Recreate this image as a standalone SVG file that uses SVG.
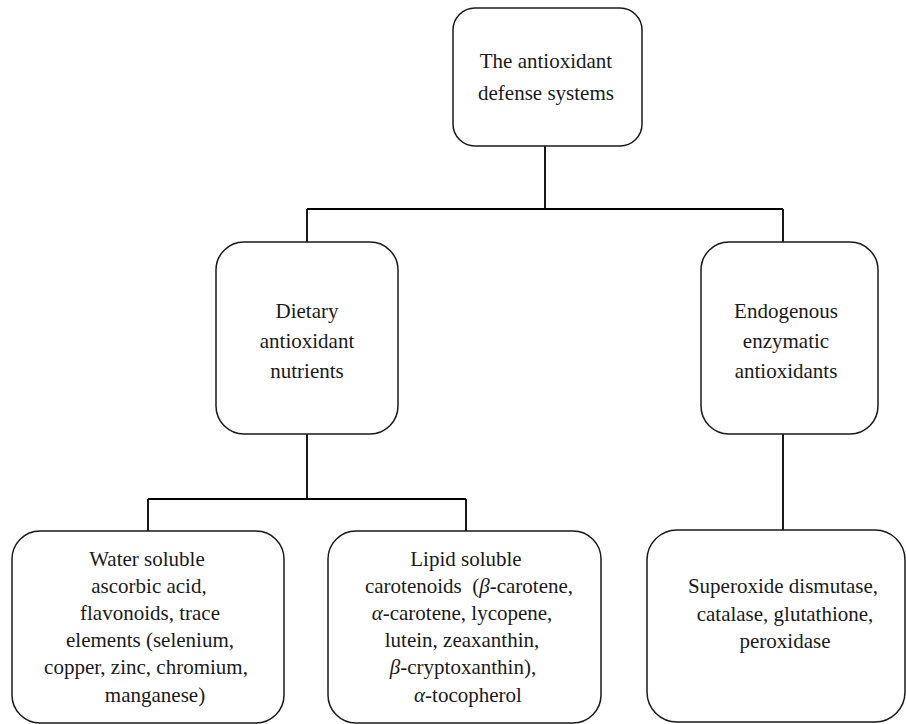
<svg xmlns="http://www.w3.org/2000/svg" width="906" height="724" viewBox="0 0 906 724">
<style>
.box{fill:#fff;stroke:#1a1a1a;stroke-width:1.5}
.t{font-family:'Liberation Serif','Times New Roman','DejaVu Serif',serif;font-size:21px;fill:#1a1a1a;text-anchor:middle}
.c{fill:none;stroke:#000;stroke-width:1.8}
.g{font-style:italic}
</style>
<rect width="906" height="724" fill="#fff"/>
<g id="connectors">
<path class="c" d="M545 146V209M307 209H783M307 209V242M783 209V242"/>
<path class="c" d="M307 434V499M148 499H466M148 499V531M466 499V531"/>
<path class="c" d="M783 434V530"/>
</g>
<g id="root">
<rect class="box" x="453" y="8" width="189" height="138" rx="22"/>
<text class="t" x="546" y="68">The antioxidant</text>
<text class="t" x="546" y="100">defense systems</text>
</g>
<g id="dietary">
<rect class="box" x="216" y="242" width="182" height="192" rx="28"/>
<text class="t" x="307" y="318">Dietary</text>
<text class="t" x="307" y="348">antioxidant</text>
<text class="t" x="307" y="378">nutrients</text>
</g>
<g id="endogenous">
<rect class="box" x="701" y="242" width="177" height="192" rx="28"/>
<text class="t" x="786" y="318">Endogenous</text>
<text class="t" x="786" y="348">enzymatic</text>
<text class="t" x="786" y="378">antioxidants</text>
</g>
<g id="water">
<rect class="box" x="12" y="531" width="272" height="192" rx="28"/>
<text class="t" x="147" y="566">Water soluble</text>
<text class="t" x="149" y="593">ascorbic acid,</text>
<text class="t" x="150" y="620">flavonoids, trace</text>
<text class="t" x="150" y="647">elements (selenium,</text>
<text class="t" x="146" y="674">copper, zinc, chromium,</text>
<text class="t" x="155" y="702">manganese)</text>
</g>
<g id="lipid">
<rect class="box" x="328" y="531" width="273" height="192" rx="28"/>
<text class="t" x="466" y="566">Lipid soluble</text>
<text class="t" x="469" y="593" xml:space="preserve">carotenoids  (<tspan class="g">β</tspan>-carotene,</text>
<text class="t" x="462" y="620"><tspan class="g">α</tspan>-carotene, lycopene,</text>
<text class="t" x="462" y="647">lutein, zeaxanthin,</text>
<text class="t" x="463" y="674"><tspan class="g">β</tspan>-cryptoxanthin),</text>
<text class="t" x="468" y="702"><tspan class="g">α</tspan>-tocopherol</text>
</g>
<g id="enzymes">
<rect class="box" x="647" y="530" width="258" height="192" rx="30"/>
<text class="t" x="783" y="593">Superoxide dismutase,</text>
<text class="t" x="785" y="621">catalase, glutathione,</text>
<text class="t" x="785" y="648">peroxidase</text>
</g>
</svg>
